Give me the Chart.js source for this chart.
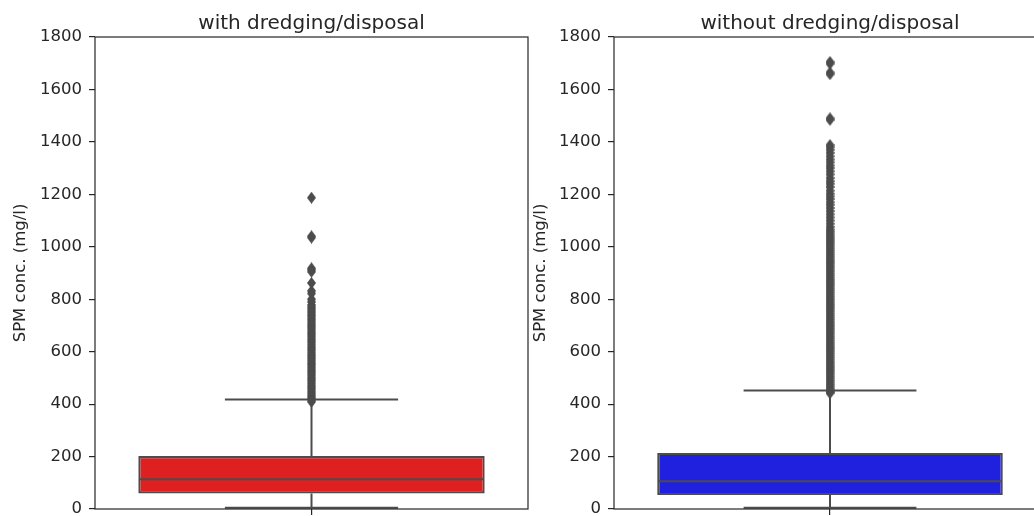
<!DOCTYPE html>
<html><head><meta charset="utf-8">
<script src="https://cdn.jsdelivr.net/npm/chart.js@4.4.0/dist/chart.umd.min.js"></script>
<style>
html,body{margin:0;padding:0;background:#fff;}
#wrap{position:relative;width:1034px;height:516px;overflow:hidden;background:#fff;}
canvas{position:absolute;top:0;}
</style></head><body>
<div id="wrap">
<canvas id="c0" width="534" height="516" style="left:0px"></canvas>
<canvas id="c1" width="530" height="516" style="left:530px"></canvas>
</div>
<script>
// ---- data ----
const panelTitles = ['with dredging/disposal', 'without dredging/disposal'];
const yAxisLabel = 'SPM conc. (mg/l)';
const yTicks = [0, 200, 400, 600, 800, 1000, 1200, 1400, 1600, 1800];
const boxColors = ['#df2020', '#2020df'];
const whiskerLow = [5, 5];
const q1 = [59, 53];
const medians = [113, 106];
const q3 = [202, 214];
const whiskerHigh = [418, 452];
const outliersWith = [1187, 1040, 1035, 918, 912, 905, 862, 832, 822, 800, 790, 778, 770, 763, 755, 748, 740, 733, 725, 718, 710, 702, 695, 688, 680, 672, 665, 658, 650, 643, 636, 628, 620, 613, 606, 598, 590, 583, 576, 568, 560, 553, 546, 538, 530, 523, 516, 508, 500, 493, 486, 478, 470, 463, 456, 448, 441, 434, 427, 420, 414, 409];
const outliersWithout = [1705, 1698, 1665, 1658, 1490, 1484, 1388, 1380, 1370, 1358, 1345, 1333, 1322, 1310, 1300, 1288, 1276, 1262, 1250, 1240, 1228, 1214, 1202, 1192, 1182, 1170, 1160, 1148, 1136, 1124, 1112, 1100, 1088, 1076, 1066, 1058, 1050, 1042, 1034, 1026, 1018, 1010, 1002, 994, 986, 978, 970, 962, 954, 946, 938, 930, 922, 914, 906, 898, 890, 882, 874, 866, 858, 850, 842, 834, 826, 818, 810, 802, 794, 786, 778, 770, 762, 754, 746, 738, 730, 722, 714, 706, 698, 690, 682, 674, 666, 658, 650, 642, 634, 626, 618, 610, 602, 594, 586, 578, 570, 562, 554, 546, 538, 530, 522, 514, 506, 498, 490, 482, 474, 466, 458, 451, 446, 442];
const outlierSets = [outliersWith, outliersWithout];

// ---- styling ----
const FONT = 'DejaVu Sans';
const GRAY = '#4c4c4c';
const AXIS = '#262626';
const TEXT = '#262626';

function diamond() {
  const w = 9, h = 12;
  const c = document.createElement('canvas');
  c.width = w; c.height = h;
  const g = c.getContext('2d');
  g.fillStyle = GRAY;
  g.beginPath();
  g.moveTo(w / 2, 0); g.lineTo(w, h / 2); g.lineTo(w / 2, h); g.lineTo(0, h / 2); g.closePath();
  g.fill();
  return c;
}
const marker = diamond();

const boxExtras = {
  id: 'boxExtras',
  beforeDatasetsDraw(chart, args, opts) {
    const i = opts.idx;
    const ctx = chart.ctx;
    const xs = chart.scales.x, ys = chart.scales.y;
    const bar = chart.getDatasetMeta(1).data[0];
    const cx = xs.getPixelForValue(0);
    const capHalf = bar.width / 4;
    ctx.save();
    ctx.strokeStyle = GRAY;
    ctx.lineWidth = 2;
    ctx.beginPath();
    ctx.moveTo(cx, ys.getPixelForValue(q3[i])); ctx.lineTo(cx, ys.getPixelForValue(whiskerHigh[i]));
    ctx.moveTo(cx, ys.getPixelForValue(q1[i])); ctx.lineTo(cx, ys.getPixelForValue(whiskerLow[i]));
    ctx.moveTo(cx - capHalf, ys.getPixelForValue(whiskerHigh[i])); ctx.lineTo(cx + capHalf, ys.getPixelForValue(whiskerHigh[i]));
    ctx.moveTo(cx - capHalf, ys.getPixelForValue(whiskerLow[i])); ctx.lineTo(cx + capHalf, ys.getPixelForValue(whiskerLow[i]));
    ctx.stroke();
    ctx.restore();
  },
  afterDatasetsDraw(chart, args, opts) {
    const i = opts.idx;
    const ctx = chart.ctx;
    const ys = chart.scales.y;
    const bar = chart.getDatasetMeta(1).data[0];
    const my = ys.getPixelForValue(medians[i]);
    ctx.save();
    ctx.strokeStyle = GRAY;
    ctx.lineWidth = 2;
    ctx.beginPath();
    ctx.moveTo(bar.x - bar.width / 2 + 1, my); ctx.lineTo(bar.x + bar.width / 2 - 1, my);
    ctx.stroke();
    const a = chart.chartArea;
    ctx.strokeStyle = AXIS;
    ctx.lineWidth = 1.2;
    ctx.strokeRect(a.left, a.top, a.right - a.left, a.bottom - a.top);
    ctx.restore();
  }
};

function makeChart(i, id, axisWidth, padRight, titlePad) {
  return new Chart(document.getElementById(id), {
    type: 'bar',
    data: {
      labels: [''],
      datasets: [
        {
          type: 'scatter',
          data: outlierSets[i].map(v => ({ x: 0, y: v })),
          pointStyle: marker,
          radius: 5,
          showLine: false
        },
        {
          data: [[q1[i], q3[i]]],
          backgroundColor: boxColors[i],
          borderColor: GRAY,
          borderWidth: 2.2,
          borderSkipped: false,
          barPercentage: 0.8,
          categoryPercentage: 1.0
        }
      ]
    },
    plugins: [boxExtras],
    options: {
      responsive: false,
      animation: false,
      devicePixelRatio: 1,
      layout: { padding: { left: 0, right: padRight, top: 0, bottom: 0 } },
      plugins: {
        legend: { display: false },
        tooltip: { enabled: false },
        title: {
          display: true, text: panelTitles[i], color: TEXT, fullSize: false,
          font: { family: FONT, size: 20, weight: 'normal', lineHeight: 1.2 },
          padding: { top: 12, bottom: 1 }
        },
        boxExtras: { idx: i }
      },
      scales: {
        x: {
          type: 'category', offset: true,
          grid: { display: true, offset: false, drawOnChartArea: false, drawTicks: true, tickLength: 6, color: AXIS, lineWidth: 1.2 },
          border: { display: false },
          ticks: { display: true, font: { family: FONT, size: 15 } },
          afterFit(s) { s.height = 7; s.paddingLeft = 0; s.paddingRight = 0; }
        },
        y: {
          min: 0, max: 1800,
          afterBuildTicks(s) { s.ticks = yTicks.map(v => ({ value: v })); },
          ticks: { color: TEXT, padding: 7, font: { family: FONT, size: 16.5 }, callback: v => String(v) },
          grid: { drawOnChartArea: false, drawTicks: true, tickLength: 6, color: AXIS, lineWidth: 1.2 },
          border: { display: false },
          title: {
            display: true, text: yAxisLabel, color: TEXT,
            font: { family: FONT, size: 16.5, lineHeight: 1.2 },
            padding: { top: titlePad, bottom: 0 }
          },
          afterFit(s) { s.width = axisWidth; s.paddingTop = 0; s.paddingBottom = 0; }
        }
      }
    }
  });
}

makeChart(0, 'c0', 95, 3, 11);
makeChart(1, 'c1', 84, 14, 1);
</script>
</body></html>
